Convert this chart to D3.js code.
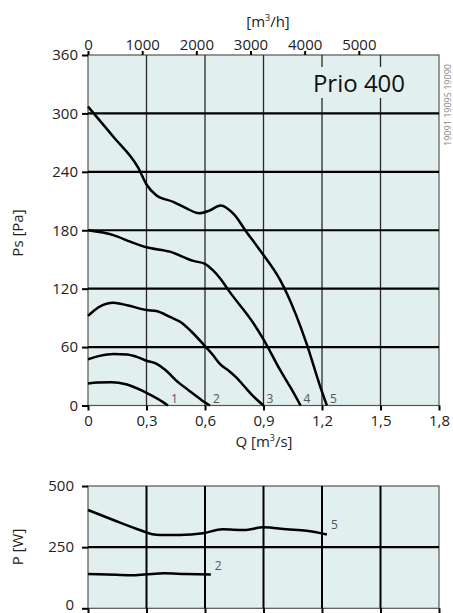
<!DOCTYPE html>
<html>
<head>
<meta charset="utf-8">
<script src="https://cdn.jsdelivr.net/npm/d3@7"></script>
<style>
  body { margin: 0; background: #fff; }
  svg text { font-family: "Open Sans", "DejaVu Sans", sans-serif; fill: #222; }
</style>
</head>
<body>
<svg id="chart" width="453" height="613"></svg>
<script>
// ---------------------------------------------
// Data
// ---------------------------------------------

let flowTicks = [0, 0.3, 0.6, 0.9, 1.2, 1.5, 1.8];
let flowHourTicks = [0, 1000, 2000, 3000, 4000, 5000];
let pressureTicks = [0, 60, 120, 180, 240, 300, 360];
let powerTicks = [0, 250, 500];

// Pressure curves, one per speed step
let curve1Q = [0, 0.05, 0.12, 0.2, 0.3, 0.36, 0.41];
let curve1Ps = [22.5, 23.5, 24, 21.5, 13, 6.5, 0];

let curve2Q = [0, 0.06, 0.13, 0.2, 0.25, 0.3, 0.35, 0.4, 0.45, 0.52, 0.58, 0.625];
let curve2Ps = [47.5, 51, 53, 52.5, 50, 46, 43, 36, 26, 15, 6, 0];

let curve3Q = [0, 0.06, 0.13, 0.2, 0.3, 0.35, 0.42, 0.48, 0.53, 0.6, 0.64, 0.68, 0.72, 0.76, 0.8, 0.85, 0.9];
let curve3Ps = [92, 101.5, 105.5, 103, 98, 97, 91, 85, 76, 61, 52, 42, 36, 29, 20, 9, 0];

let curve4Q = [0, 0.13, 0.22, 0.3, 0.42, 0.54, 0.6, 0.64, 0.68, 0.72, 0.85, 0.9, 0.985, 1.04, 1.09];
let curve4Ps = [180, 175, 168, 162.5, 158, 148.5, 145.5, 139, 130, 118.5, 84, 68, 36.5, 18, 0];

let curve5Q = [0, 0.13, 0.258, 0.3, 0.35, 0.44, 0.5, 0.57, 0.62, 0.68, 0.75, 0.81, 0.88, 0.985, 1.02, 1.12, 1.19, 1.225];
let curve5Ps = [307, 276, 244, 227, 216, 209, 203, 197.5, 200, 205.5, 196, 179, 160, 129, 115, 64, 20, 0];

let curveLabels = ['1', '2', '3', '4', '5'];

// Power curves (only steps 2 and 5 are drawn)
let power2Q = [0, 0.1, 0.22, 0.3, 0.39, 0.5, 0.63];
let power2P = [140, 138, 135, 139, 143, 140, 138];

let power5Q = [0, 0.13, 0.28, 0.33, 0.37, 0.47, 0.59, 0.69, 0.8, 0.9, 1.02, 1.12, 1.225];
let power5P = [402, 361, 316, 303, 300, 300, 307, 323, 320, 331, 323, 317, 302];

let powerLabels = ['2', '5'];

// ---------------------------------------------
// Helpers
// ---------------------------------------------

let zip = function(xs, ys) {
  return xs.map((x, i) => ({q: x, v: ys[i]}));
};

let commaFormat = function(d) {
  return d === 0 ? '0' : String(d).replace('.', ',');
};

let styleAxis = function(g) {
  g.select('.domain').remove();
  g.selectAll('.tick line').attr('stroke', '#000').attr('stroke-width', 2);
  g.selectAll('.tick text')
      .attr('font-size', 15)
      .attr('font-family', null)
      .style('fill', '#222');
};

// ---------------------------------------------
// Layout
// ---------------------------------------------

let svg = d3.select('#chart');
let left = 88, right = 439;
let mainTop = 55, mainBottom = 405.5;
let powTop = 486, powBottom = 608.3;
let plotFill = '#e1efee';

let x = d3.scaleLinear().domain([0, 1.8]).range([left, right]);
let xHour = d3.scaleLinear().domain([0, 1.8 * 3600]).range([left, right]);
let yPs = d3.scaleLinear().domain([0, 360]).range([mainBottom, mainTop]);
let yPow = d3.scaleLinear().domain([0, 500]).range([powBottom, powTop]);

let line = function(yScale) {
  return d3.line()
      .x(d => x(d.q))
      .y(d => yScale(d.v))
      .curve(d3.curveMonotoneX);
};

// ---------------------------------------------
// Pressure chart
// ---------------------------------------------

let main = svg.append('g');

main.append('rect')
    .attr('x', left).attr('y', mainTop)
    .attr('width', right - left).attr('height', mainBottom - mainTop)
    .attr('fill', plotFill)
    .attr('stroke', '#555').attr('stroke-width', 1.2);

// vertical grid
main.selectAll('.vgrid').data(flowTicks.slice(1, -1))
    .join('line')
    .attr('x1', d => x(d)).attr('x2', d => x(d))
    .attr('y1', mainTop).attr('y2', mainBottom)
    .attr('stroke', '#2a2a2a').attr('stroke-width', 1.3);

// horizontal grid
main.selectAll('.hgrid').data(pressureTicks.slice(1, -1))
    .join('line')
    .attr('x1', left).attr('x2', right)
    .attr('y1', d => yPs(d)).attr('y2', d => yPs(d))
    .attr('stroke', '#000').attr('stroke-width', 2.2);

// model title, sits on a patch of the plot colour
main.append('rect')
    .attr('x', 309).attr('y', 67)
    .attr('width', 100).attr('height', 31)
    .attr('fill', plotFill);
main.append('text')
    .attr('x', 359).attr('y', 92)
    .attr('text-anchor', 'middle')
    .attr('font-size', 24)
    .attr('font-weight', 500)
    .style('fill', '#111')
    .text('Prio 400');

let curves = [
  zip(curve1Q, curve1Ps), zip(curve2Q, curve2Ps), zip(curve3Q, curve3Ps),
  zip(curve4Q, curve4Ps), zip(curve5Q, curve5Ps)
];

main.selectAll('.curve').data(curves)
    .join('path')
    .attr('d', line(yPs))
    .attr('fill', 'none')
    .attr('stroke', '#000')
    .attr('stroke-width', 2.5)
    .attr('stroke-linejoin', 'round');

main.selectAll('.clabel').data(curves)
    .join('text')
    .attr('x', d => x(d[d.length - 1].q) + 3)
    .attr('y', mainBottom - 2.5)
    .attr('font-size', 12)
    .style('fill', '#555')
    .text((d, i) => curveLabels[i]);

// axes
let gy = main.append('g')
    .attr('transform', `translate(${left},0)`)
    .call(d3.axisLeft(yPs).tickValues(pressureTicks).tickSize(6).tickPadding(4));

let gx = main.append('g')
    .attr('transform', `translate(0,${mainBottom})`)
    .call(d3.axisBottom(x).tickValues(flowTicks).tickSize(5).tickPadding(5)
        .tickFormat(commaFormat));

let gh = main.append('g')
    .attr('transform', `translate(0,${mainTop})`)
    .call(d3.axisTop(xHour).tickValues(flowHourTicks).tickSize(4).tickPadding(1)
        .tickFormat(d3.format('d')));

[gy, gx, gh].forEach(styleAxis);

// axis titles
let qTitle = main.append('text')
    .attr('x', 264).attr('y', 447)
    .attr('text-anchor', 'middle')
    .attr('font-size', 15);
qTitle.append('tspan').text('Q [m');
qTitle.append('tspan').attr('font-size', 9).attr('dy', -6).text('3');
qTitle.append('tspan').attr('dy', 6).text('/s]');

let hTitle = main.append('text')
    .attr('x', 268).attr('y', 27)
    .attr('text-anchor', 'middle')
    .attr('font-size', 15);
hTitle.append('tspan').text('[m');
hTitle.append('tspan').attr('font-size', 9).attr('dy', -6).text('3');
hTitle.append('tspan').attr('dy', 6).text('/h]');

main.append('text')
    .attr('transform', 'translate(23,233) rotate(-90)')
    .attr('text-anchor', 'middle')
    .attr('font-size', 15)
    .text('Ps [Pa]');

// drawing numbers along the right edge
main.append('text')
    .attr('transform', 'translate(451,105) rotate(-90)')
    .attr('text-anchor', 'middle')
    .attr('font-size', 9)
    .style('fill', '#888')
    .text('19091  19095  19090');

// ---------------------------------------------
// Power chart
// ---------------------------------------------

let pow = svg.append('g');

pow.append('rect')
    .attr('x', left).attr('y', powTop)
    .attr('width', right - left).attr('height', powBottom - powTop)
    .attr('fill', plotFill)
    .attr('stroke', '#555').attr('stroke-width', 1.2);

pow.selectAll('.vgrid').data(flowTicks.slice(1, -1))
    .join('line')
    .attr('x1', d => x(d)).attr('x2', d => x(d))
    .attr('y1', powTop).attr('y2', powBottom)
    .attr('stroke', '#000').attr('stroke-width', 2);

pow.selectAll('.hgrid').data(powerTicks.slice(1, -1))
    .join('line')
    .attr('x1', left).attr('x2', right)
    .attr('y1', d => yPow(d)).attr('y2', d => yPow(d))
    .attr('stroke', '#000').attr('stroke-width', 2.2);

let powerCurves = [zip(power2Q, power2P), zip(power5Q, power5P)];

pow.selectAll('.pcurve').data(powerCurves)
    .join('path')
    .attr('d', line(yPow))
    .attr('fill', 'none')
    .attr('stroke', '#000')
    .attr('stroke-width', 2.5)
    .attr('stroke-linejoin', 'round');

pow.selectAll('.plabel').data(powerCurves)
    .join('text')
    .attr('x', d => x(d[d.length - 1].q) + 4)
    .attr('y', d => yPow(d[d.length - 1].v) - 5)
    .attr('font-size', 12)
    .style('fill', '#555')
    .text((d, i) => powerLabels[i]);

let gp = pow.append('g')
    .attr('transform', `translate(${left},0)`)
    .call(d3.axisLeft(yPow).tickValues(powerTicks).tickSize(6).tickPadding(8));

let gpx = pow.append('g')
    .attr('transform', `translate(0,${powBottom})`)
    .call(d3.axisBottom(x).tickValues(flowTicks).tickSize(6).tickFormat(''));

[gp, gpx].forEach(styleAxis);

// keep the zero label inside the window
gp.selectAll('.tick text').filter(d => d === 0).attr('dy', '0.1em');

pow.append('text')
    .attr('transform', 'translate(23,547) rotate(-90)')
    .attr('text-anchor', 'middle')
    .attr('font-size', 15)
    .text('P [W]');
</script>
</body>
</html>
